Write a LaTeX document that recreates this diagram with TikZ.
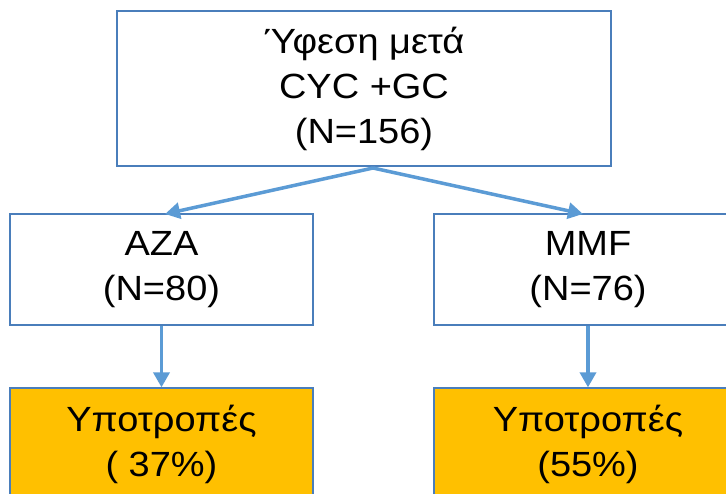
\documentclass[tikz,border=0pt]{standalone}
\usepackage{fontspec}
\setmainfont[FakeStretch=1.085]{Liberation Sans}
\usetikzlibrary{arrows.meta}
\definecolor{boxline}{HTML}{4A7EBB}
\definecolor{arrowc}{HTML}{5B9BD5}
\definecolor{orangec}{HTML}{FFC000}
\tikzset{
  box/.style={draw=boxline, line width=1.3pt, fill=white, rectangle, inner sep=0pt,
    align=center, font=\fontsize{35}{45}\selectfont, text=black},
  obox/.style={box, fill=orangec},
  conn/.style={draw=arrowc, line width=3.5pt, -{Triangle[length=15pt,width=16pt]}}
}
\begin{document}
\begin{tikzpicture}[x=1pt,y=1pt]
\useasboundingbox (0,0) rectangle (726,-493);
\clip (0,0) rectangle (726,-493);
\fill[white] (0,0) rectangle (726,-493);
\node[box, minimum width=494pt, minimum height=155pt] (top) at (364,-88.5)
  {Ύφεση μετά\\CYC +GC\\(N=156)};
\node[box, minimum width=303pt, minimum height=111pt] (midL) at (161.5,-269.5)
  {AZA\\(N=80)};
\node[box, minimum width=308pt, minimum height=111pt] (midR) at (588,-269.5)
  {MMF\\(N=76)};
\node[obox, minimum width=303pt, minimum height=112pt] (botL) at (161.5,-444)
  {Υποτροπές\\( 37\%)};
\node[obox, minimum width=308pt, minimum height=112pt] (botR) at (588,-444)
  {Υποτροπές\\(55\%)};
\coordinate (s) at (373,-168);
\coordinate (tl) at (165,-214);
\coordinate (tr) at (583,-214);
\draw[conn] (s) -- (tl);
\draw[conn] (s) -- (tr);
\draw[conn] (midL.south) -- (botL.north);
\draw[conn] (midR.south) -- (botR.north);
\end{tikzpicture}
\end{document}
